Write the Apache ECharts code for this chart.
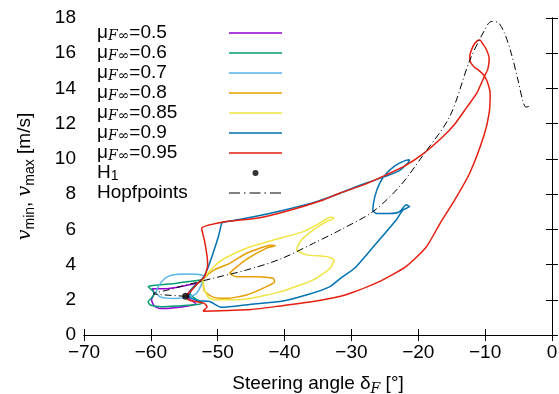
<!DOCTYPE html>
<html lang="en">
<head>
    <meta charset="UTF-8">
    <title>Hopf orbits</title>
    <script src="https://cdn.jsdelivr.net/npm/echarts@6/dist/echarts.min.js"></script>
    <style>
        html, body { margin: 0; padding: 0; background: #fff; }
        #container { width: 559px; height: 394px; }
    </style>
</head>
<body>
<div id="container"></div>
<script>
    // friction values of the legend
    var muValues = ['0.5', '0.6', '0.7', '0.8', '0.85', '0.9', '0.95'];
    var colors = ['#9400d3', '#009e73', '#56b4e9', '#e69f00', '#f0e442', '#0072b2', '#e51e10'];

    // orbits, [steering angle, speed]
    var mu050 = [[-52.9,2.95],[-55.5,2.75],[-57.9,2.62],[-59.8,2.62],[-59.5,2.35],[-59.9,2.0],[-59.5,1.65],
        [-58.6,1.5],[-56.5,1.55],[-54.5,1.65],[-53.3,1.78],[-54.2,2.05],[-54.4,2.35],[-53.8,2.65],[-52.9,2.95]];
    var mu060 = [[-52.1,3.15],[-54.0,3.05],[-56.4,2.93],[-58.5,2.85],[-60.4,2.75],[-59.7,2.5],[-59.5,2.35],
        [-59.9,2.1],[-60.4,1.9],[-60.1,1.7],[-58.4,1.6],[-55.9,1.65],[-53.4,1.72],[-52.3,1.8],[-53.5,2.1],
        [-54.2,2.4],[-53.5,2.8],[-52.1,3.15]];
    var mu070 = [[-51.9,3.35],[-53.0,3.45],[-54.9,3.47],[-56.8,3.41],[-57.9,3.22],[-58.9,2.75],[-59.2,2.4],
        [-58.5,2.15],[-56.4,2.07],[-54.6,2.15],[-53.2,2.35],[-52.5,2.8],[-51.9,3.35]];
    var mu080 = [[-52.2,3.2],[-50.5,3.7],[-48.2,4.07],[-45.7,4.64],[-43.7,4.93],[-42.2,5.1],[-41.4,5.07],
        [-42.7,4.93],[-45.7,4.3],[-47.7,3.7],[-48.2,3.5],[-47.2,3.31],[-44.2,3.31],[-41.7,3.22],[-41.5,3.03],
        [-42.7,2.75],[-45.7,2.27],[-48.7,2.08],[-50.7,2.15],[-52.0,2.5],[-52.2,3.2]];
    var mu085 = [[-52.2,3.2],[-50.5,3.9],[-49.2,4.3],[-45.7,4.93],[-40.7,5.49],[-37.2,5.87],[-34.7,6.35],
        [-33.2,6.69],[-32.6,6.63],[-33.7,6.44],[-35.7,5.97],[-37.7,5.3],[-38.2,4.83],[-36.7,4.55],[-33.7,4.45],
        [-32.6,4.26],[-33.2,3.79],[-35.7,3.13],[-40.7,2.45],[-45.7,2.05],[-49.6,2.0],[-51.3,2.1],[-52.0,2.6],[-52.2,3.2]];
    var mu090 = [[-49.4,6.38],[-45,6.68],[-40,7.1],[-35,7.6],[-31.7,8.05],[-28,8.6],[-24.3,9.09],[-22.8,9.35],
        [-21.5,9.8],[-21.3,9.95],[-22.0,9.9],[-23.5,9.6],[-24.8,9.15],[-25.8,8.6],[-26.5,7.86],[-26.8,7.1],
        [-26.3,6.9],[-24.3,6.9],[-22.8,7.0],[-21.8,7.39],[-21.3,7.29],[-22.3,7.1],[-23.3,6.53],[-26.3,5.2],
        [-29.5,3.8],[-31.7,3.2],[-33.2,2.75],[-36.5,2.3],[-40.7,1.9],[-45,1.75],[-49.4,1.57],[-51.2,1.9],
        [-53.0,1.95],[-54.3,2.2],[-54.0,2.5],[-53.2,2.85],[-52.1,3.3],[-51.4,3.88],[-50.7,4.64],[-49.9,5.59],[-49.4,6.38]];
    var mu095 = [[-52.2,1.35],[-45,1.45],[-40.7,1.65],[-35,1.95],[-30.7,2.3],[-26,3.0],[-21.8,3.9],[-18.8,5.0],
        [-16.8,6.3],[-14.5,7.7],[-12.3,9.2],[-10.2,11.3],[-9.4,12.6],[-9.25,13.7],[-9.6,14.3],[-10.1,14.7],
        [-10.85,15.0],[-11.6,15.2],[-12.2,15.5],[-12.3,15.8],[-11.8,16.4],[-11.2,16.7],[-10.8,16.75],[-10.3,16.5],
        [-9.8,16.2],[-9.4,15.7],[-9.6,15.1],[-10.1,14.7],[-11.3,13.7],[-12.8,12.9],[-14.5,12.0],[-16.3,11.27],
        [-19.3,10.28],[-22,9.6],[-24.8,9.09],[-28,8.55],[-31.8,8.05],[-34.2,7.67],[-40,7.0],[-44.2,6.63],
        [-49.4,6.4],[-52.4,6.05],[-52.0,5.4],[-51.6,4.5],[-51.5,4.0],[-52.0,3.3],[-53.1,2.9],[-54.0,2.5],
        [-54.6,2.25],[-54.4,2.0],[-53.2,1.9],[-52.0,1.8],[-51.6,1.6],[-52.2,1.35]];
    var orbits = [mu050, mu060, mu070, mu080, mu085, mu090, mu095];

    var h1Point = [[-54.8, 2.2]];
    var hopfPoints = [[-54.8,2.2],[-57,2.25],[-59.6,2.35],[-57.5,2.55],[-55.6,2.75],[-50.7,3.22],[-45.7,3.69],
        [-40.7,4.3],[-35.7,5.2],[-31.5,6.0],[-26.8,7.0],[-22.8,8.43],[-19.3,10.2],[-15.3,12.4],[-12.3,15.6],
        [-10.1,17.3],[-9.1,17.8],[-8.1,17.75],[-7.1,17.14],[-6.1,16.0],[-5.1,14.5],[-4.4,13.35],[-3.9,12.94],[-3.3,13.0]];

    var xTicks = {min: -70, max: 0, interval: 10};
    var yTicks = {min: 0, max: 18, interval: 2};

    var font = 'Liberation Sans, Arial, sans-serif';
    var mathFont = 'DejaVu Serif, serif';
    var fs = 19, subFs = 14;

    // legend icons: invisible corner points keep the 53x14 box, so the mark is not stretched
    var box = 'path://M0 0L0.01 0M53 14L53.01 14';
    var lineIcon = box + 'M0 6.3H53V7.7H0Z';
    var dotIcon = box + 'M23.5 7a3 3 0 1 0 6 0a3 3 0 1 0 -6 0Z';
    var dashDotIcon = box + 'M0 6.5H11V7.5H0ZM15 6.5H16.5V7.5H15ZM20.5 6.5H31.5V7.5H20.5Z' +
        'M35.5 6.5H37V7.5H35.5ZM41 6.5H52V7.5H41Z';

    var series = [];
    var legendData = [];
    orbits.forEach(function (d, i) {
        var name = 'mu' + muValues[i];
        legendData.push({name: name, icon: lineIcon});
        series.push({
            type: 'line', name: name, data: d,
            symbol: 'none', smooth: 0.2,
            lineStyle: {color: colors[i], width: 1.5},
            itemStyle: {color: colors[i]},
            animation: false
        });
    });
    series.push({
        type: 'line', name: 'Hopfpoints', data: hopfPoints, symbol: 'none', smooth: 0.3, z: 3,
        lineStyle: {color: '#000', width: 1, type: [7, 3, 1, 3]}, itemStyle: {color: '#000'}, animation: false
    });
    series.push({
        type: 'scatter', name: 'H1', data: h1Point, symbolSize: 7, z: 4,
        itemStyle: {color: '#000'}, animation: false
    });
    legendData.push({name: 'H1', icon: dotIcon});
    legendData.push({name: 'Hopfpoints', icon: dashDotIcon});

    var myChart = echarts.init(document.getElementById('container'), null, {renderer: 'canvas'});
    var option = {
        backgroundColor: '#fff',
        animation: false,
        grid: {left: 84, right: 7, top: 18, bottom: 59, containLabel: false, outerBoundsMode: 'none'},
        legend: {
            orient: 'vertical', left: 97, top: 23, padding: 0, align: 'right',
            itemWidth: 53, itemHeight: 14, itemGap: 0,
            data: legendData,
            formatter: function (name) {
                if (name.indexOf('mu') === 0) {
                    return '{m|μ}{s|F∞}{m|=' + name.slice(2) + '}';
                }
                if (name === 'H1') return '{m|H}{n|1}';
                return '{m|' + name + '}';
            },
            textStyle: {
                width: 127, color: '#000', fontFamily: font, fontSize: fs, lineHeight: 20, align: 'left',
                rich: {
                    m: {fontFamily: font, fontSize: fs, lineHeight: 20, color: '#000', align: 'left'},
                    s: {fontFamily: mathFont, fontStyle: 'italic', fontSize: subFs, lineHeight: 4,
                        verticalAlign: 'bottom', color: '#000', align: 'left'},
                    n: {fontFamily: font, fontSize: subFs, lineHeight: 4,
                        verticalAlign: 'bottom', color: '#000', align: 'left'}
                }
            }
        },
        xAxis: [{
            type: 'value', min: xTicks.min, max: xTicks.max, interval: xTicks.interval,
            name: '{t|Steering angle δ}{s|F}{t| [°]}',
            nameLocation: 'middle', nameGap: 37,
            nameTextStyle: {
                rich: {
                    t: {fontFamily: font, fontSize: fs, color: '#000'},
                    s: {fontFamily: mathFont, fontStyle: 'italic', fontSize: subFs, padding: [10, 0, 0, 0], color: '#000'}
                }
            },
            axisLine: {show: true, lineStyle: {color: '#000', width: 1}},
            axisTick: {inside: true, length: 6, lineStyle: {color: '#000'}},
            axisLabel: {
                color: '#000', fontFamily: font, fontSize: fs, margin: 8,
                formatter: function (v) { return String(v).replace('-', '\u2212'); }
            },
            splitLine: {show: false}
        }, {
            type: 'value', position: 'top', min: xTicks.min, max: xTicks.max, interval: xTicks.interval,
            axisLine: {show: true, lineStyle: {color: '#000', width: 1}},
            axisTick: {inside: true, length: 6, lineStyle: {color: '#000'}},
            axisLabel: {show: false}, splitLine: {show: false}
        }],
        yAxis: [{
            type: 'value', min: yTicks.min, max: yTicks.max, interval: yTicks.interval,
            name: '{v|v}{s|min}{t|, }{v|v}{s|max}{t| [m/s]}',
            nameLocation: 'middle', nameGap: 47, nameRotate: 90,
            nameTextStyle: {
                rich: {
                    t: {fontFamily: font, fontSize: fs, color: '#000'},
                    v: {fontFamily: mathFont, fontStyle: 'italic', fontSize: fs, color: '#000'},
                    s: {fontFamily: font, fontSize: subFs, padding: [10, 0, 0, 0], color: '#000'}
                }
            },
            axisLine: {show: true, lineStyle: {color: '#000', width: 1}},
            axisTick: {inside: true, length: 6, lineStyle: {color: '#000'}},
            axisLabel: {color: '#000', fontFamily: font, fontSize: fs, margin: 8},
            splitLine: {show: false}
        }, {
            type: 'value', position: 'right', min: yTicks.min, max: yTicks.max, interval: yTicks.interval,
            axisLine: {show: true, lineStyle: {color: '#000', width: 1}},
            axisTick: {inside: true, length: 6, lineStyle: {color: '#000'}},
            axisLabel: {show: false}, splitLine: {show: false}
        }],
        series: series
    };
    myChart.setOption(option);
</script>
</body>
</html>
